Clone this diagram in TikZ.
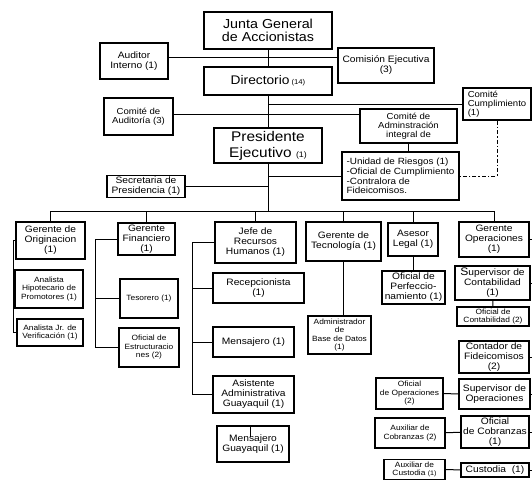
\documentclass[tikz,border=0pt]{standalone}
\usepackage{fontspec}
\setmainfont{Liberation Sans}[FakeStretch=1.1]
\usepackage{tikz}

\begin{document}
\begin{tikzpicture}[x=1pt,y=-1pt,line width=1pt,
		box/.style={draw,line width=1.4pt,align=center,inner sep=1pt},
		fbig/.style={font=\fontsize{13}{13.5}\selectfont},
		fpres/.style={font=\fontsize{14}{16}\selectfont},
		fdir/.style={font=\fontsize{12.5}{13}\selectfont},
		fmid/.style={font=\fontsize{9.3}{10}\selectfont},
		fsmall/.style={font=\fontsize{8.7}{9.3}\selectfont},
		ftiny/.style={font=\fontsize{7.6}{8.5}\selectfont}]
		\tikzstyle{LinkDash}=[dash pattern=on 4pt off 2pt on 1.5pt off 2pt]

		\useasboundingbox (0,0) rectangle (532,479);

		% top levels
		\node at (268,30.5) [box,fbig,minimum width=128pt,minimum height=37pt] (junta) {Junta General\\de Accionistas};
		\node at (134,61) [box,fmid,minimum width=68pt,minimum height=36pt] (auditor) {Auditor\\Interno (1)};
		\node at (386,65.5) [box,fmid,minimum width=96pt,minimum height=35pt] (comision) {Comisión Ejecutiva\\(3)};
		\node at (268,81) [box,fdir,minimum width=128pt,minimum height=28pt] (directorio) {Directorio\,{\fontsize{7}{8}\selectfont(14)}};
		\node at (138.5,116.5) [box,fsmall,minimum width=69pt,minimum height=37pt] (auditoria) {Comité de\\Auditoría (3)};
		\node at (497,104) [box,fsmall,align=left,minimum width=68pt,minimum height=32pt] (cumplimiento) {Comité\\Cumplimiento\\(1)};
		\node at (408.5,126) [box,fsmall,minimum width=97pt,minimum height=34pt] (comiteadm) {Comité de\\Adminstración\\integral de};
		\node at (268,145.5) [box,fpres,minimum width=108pt,minimum height=35pt] (presidente) {Presidente\\Ejecutivo {\fontsize{8}{9}\selectfont(1)}};
		\node at (400.5,176) [box,font=\fontsize{9}{9.6}\selectfont,align=left,minimum width=117pt,minimum height=48pt] (listbox) {-Unidad de Riesgos (1)\\-Oficial de Cumplimiento\\-Contralora de\\Fideicomisos.};
		\node at (146,186.5) [box,fmid,minimum width=78pt,minimum height=22pt] (secretaria) {Secretaria de\\Presidencia (1)};

		% gerencias
		\node at (50.5,240.5) [box,fmid,minimum width=69pt,minimum height=37pt] (originacion) {Gerente de\\Originacion\\(1)};
		\node at (146.5,239) [box,fmid,minimum width=57pt,minimum height=32pt] (financiero) {Gerente\\Financiero\\(1)};
		\node at (255.5,242.5) [box,fmid,minimum width=81pt,minimum height=41pt] (rrhh) {Jefe de\\Recursos\\Humanos (1)};
		\node at (343.5,241.5) [box,fmid,minimum width=75pt,minimum height=39pt] (tecnologia) {Gerente de\\Tecnología (1)};
		\node at (413,239.5) [box,fmid,minimum width=50pt,minimum height=33pt] (asesor) {Asesor\\Legal (1)};
		\node at (494,239.5) [box,fmid,minimum width=70pt,minimum height=35pt] (operaciones) {Gerente\\Operaciones\\(1)};

		% dependencias
		\node at (49,289) [box,ftiny,minimum width=68pt,minimum height=38pt] (analistahip) {Analista\\Hipotecario de\\Promotores (1)};
		\node at (50,332.5) [box,ftiny,minimum width=66pt,minimum height=27pt] (analistajr) {Analista Jr. de\\Verificación (1)};
		\node at (149,298.5) [box,ftiny,minimum width=58pt,minimum height=39pt] (tesorero) {Tesorero (1)};
		\node at (149,347.5) [box,ftiny,minimum width=60pt,minimum height=39pt] (estructuracion) {Oficial de\\Estructuracio\\nes (2)};
		\node at (258.5,288) [box,fmid,minimum width=91pt,minimum height=30pt] (recepcionista) {Recepcionista\\(1)};
		\node at (253.5,342) [box,fmid,minimum width=81pt,minimum height=30pt] (mensajero) {Mensajero (1)};
		\node at (253.5,394.5) [box,fmid,minimum width=81pt,minimum height=37pt] (asistente) {Asistente\\Administrativa\\Guayaquil (1)};
		\node at (253,444) [box,fmid,minimum width=72pt,minimum height=36pt] (mensajerogye) {Mensajero\\Guayaquil (1)};
		\node at (339.5,335) [box,ftiny,minimum width=63pt,minimum height=38pt] (dba) {Administrador\\de\\Base de Datos\\(1)};
		\node at (413.5,287.5) [box,fmid,minimum width=63pt,minimum height=33pt] (perfeccionamiento) {Oficial de\\Perfeccio-\\namiento (1)};
		\node at (492.5,283) [box,fmid,minimum width=75pt,minimum height=34pt] (supcont) {{\fontsize{11}{10}\selectfont S}upervisor de\\Contabilidad\\(1)};
		\node at (493,316.5) [box,ftiny,minimum width=72pt,minimum height=19pt] (ofcont) {Oficial de\\Contabilidad (2)};
		\node at (494,357) [box,fmid,minimum width=70pt,minimum height=32pt] (contador) {Contador de\\Fideicomisos\\(2)};
		\node at (494.5,394) [box,fmid,minimum width=71pt,minimum height=30pt] (supop) {Supervisor de\\Operaciones};
		\node at (409.5,393.5) [box,ftiny,minimum width=67pt,minimum height=31pt] (ofop) {Oficial\\de Operaciones\\(2)};
		\node at (495,432) [box,fmid,minimum width=68pt,minimum height=32pt] (ofcob) {Oficial\\de Cobranzas\\(1)};
		\node at (410,433) [box,ftiny,minimum width=70pt,minimum height=30pt] (auxcob) {Auxiliar de\\Cobranzas (2)};
		\node at (495,470) [box,fmid,minimum width=68pt,minimum height=14pt] (custodia) {Custodia\ \ (1)};
		\node at (414.5,469.5) [box,ftiny,minimum width=61pt,minimum height=20pt] (auxcust) {Auxiliar de\\Custodia {\fontsize{6.5}{7}\selectfont(1)}};

		\coordinate (jd) at (0,57);
		\coordinate (ca) at (0,114);
		\coordinate (bus) at (0,211);
		\coordinate (orail) at (13,0);
		\coordinate (frail) at (95,0);
		\coordinate (hrail) at (192,0);
		\coordinate (edge) at (532,0);

		% lineas superiores
		\draw (junta) -- (directorio);
		\draw (auditor.east |- jd) -- (comision.west |- jd);
		\draw (directorio) -- (presidente);
		\draw (directorio.south |- cumplimiento.west) -- (cumplimiento.west);
		\draw (auditoria.east |- ca) -- (comiteadm.west |- ca);
		\draw (comiteadm.south) -- (comiteadm.south |- listbox.north);
		\draw (presidente.south) -- (presidente.south |- bus);
		\draw (presidente.south |- listbox.west) -- (listbox.west);
		\draw (secretaria.east) -- (presidente.south |- secretaria.east);
		\draw[LinkDash] (cumplimiento.south) |- (listbox.east);

		% gerencias
		\draw (originacion.north |- bus) -- (operaciones.north |- bus);
		\foreach \n in {originacion,financiero,rrhh,tecnologia,asesor,operaciones}
			\draw (\n.north |- bus) -- (\n.north);

		% dependencias
		\draw (originacion.west) -| (orail |- analistajr.west) -- (analistajr.west);
		\draw (analistahip.west) -- (orail |- analistahip.west);
		\draw (financiero.west) -| (frail |- estructuracion.west) -- (estructuracion.west);
		\draw (tesorero.west) -- (frail |- tesorero.west);
		\draw (rrhh.west) -| (hrail |- asistente.west) -- (asistente.west);
		\draw (recepcionista.west) -- (hrail |- recepcionista.west);
		\draw (mensajero.west) -- (hrail |- mensajero.west);
		\draw ([xshift=-3pt]mensajerogye.north) -- ++(0,12);
		\draw (tecnologia.south) -- (tecnologia.south |- dba.north);
		\draw (asesor.south) -- (asesor.south |- perfeccionamiento.north);
		\draw (supcont) -- (ofcont);
		\draw (ofop) -- (supop);
		\draw (auxcob) -- (ofcob);
		\draw (auxcust) -- (custodia);
		\foreach \n in {operaciones,supcont,contador,supop,ofcob,custodia}
			\draw (\n.east) -- (edge |- \n.east);
	\end{tikzpicture}
\end{document}
